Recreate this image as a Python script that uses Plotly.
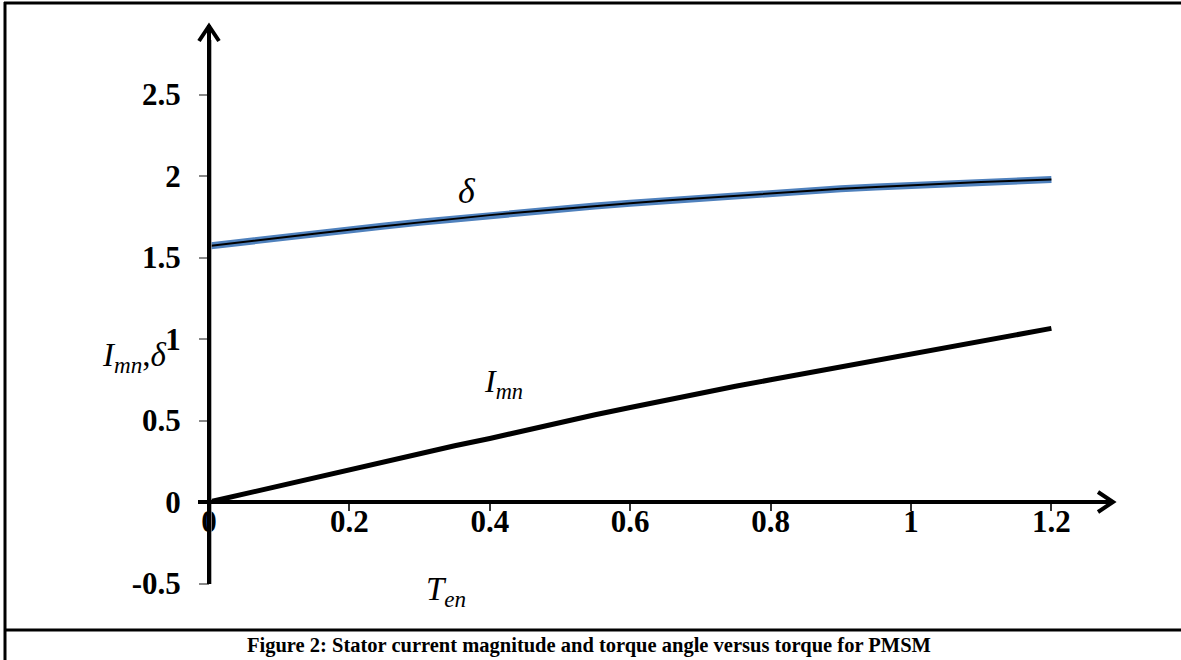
import plotly.graph_objects as go

# ---- data ----
torque = [0, 0.05, 0.1, 0.15, 0.2, 0.25, 0.3, 0.35, 0.4, 0.45, 0.5, 0.55, 0.6,
          0.65, 0.7, 0.75, 0.8, 0.85, 0.9, 0.95, 1.0, 1.05, 1.1, 1.15, 1.2]
current = [0, 0.05, 0.10, 0.15, 0.20, 0.25, 0.295, 0.345, 0.39, 0.44, 0.485, 0.535, 0.58,
           0.625, 0.665, 0.71, 0.75, 0.79, 0.83, 0.87, 0.91, 0.95, 0.99, 1.03, 1.065]
delta = [1.571, 1.597, 1.622, 1.646, 1.670, 1.693, 1.716, 1.738, 1.760, 1.779, 1.798, 1.816, 1.833,
         1.849, 1.864, 1.878, 1.892, 1.907, 1.922, 1.933, 1.944, 1.954, 1.963, 1.971, 1.978]
x_ticks = [0, 0.2, 0.4, 0.6, 0.8, 1.0, 1.2]
x_labels = ["0", "0.2", "0.4", "0.6", "0.8", "1", "1.2"]
y_ticks = [-0.5, 0, 0.5, 1, 1.5, 2, 2.5]
y_labels = ["-0.5", "0", "0.5", "1", "1.5", "2", "2.5"]

W, H = 1181, 660
# pixel mapping of the reference: x=0 at px 209, 702 px/unit; y=0 at px 502, 163 px/unit
X0PX, XS = 209, 702.0
Y0PX, YS = 502, 163.0
xr = [-X0PX / XS, (W - X0PX) / XS]
yr = [-(H - Y0PX) / YS, Y0PX / YS]

def dx(px):
    return (px - X0PX) / XS

def dy(py):
    return (Y0PX - py) / YS

def px(x):
    return x / W

def py(y):
    return 1 - y / H

serif = "Liberation Serif, Times New Roman, serif"

fig = go.Figure()
fig.add_trace(go.Scatter(x=torque, y=delta, mode="lines",
                         line=dict(color="#4f81bd", width=7), hoverinfo="skip"))
fig.add_trace(go.Scatter(x=torque, y=delta, mode="lines",
                         line=dict(color="black", width=2), hoverinfo="skip"))
fig.add_trace(go.Scatter(x=torque, y=current, mode="lines",
                         line=dict(color="black", width=5), hoverinfo="skip"))

shapes = []
# thin grey axis line beside the black arrow
shapes.append(dict(type="line", xref="x", yref="y", x0=dx(211), x1=dx(211), y0=dy(584), y1=dy(40),
                   line=dict(color="#999999", width=1.5)))
# axis lines with open arrowheads
shapes.append(dict(type="line", xref="x", yref="y", x0=0, x1=0, y0=dy(584), y1=dy(25),
                   line=dict(color="black", width=4), layer="above"))
shapes.append(dict(type="path", xref="x", yref="y",
                   path=f"M {dx(199)},{dy(41)} L {dx(209)},{dy(26)} L {dx(219)},{dy(41)}",
                   line=dict(color="black", width=4), layer="above"))
shapes.append(dict(type="line", xref="x", yref="y", x0=dx(198), x1=dx(1113), y0=0, y1=0,
                   line=dict(color="black", width=4), layer="above"))
shapes.append(dict(type="path", xref="x", yref="y",
                   path=f"M {dx(1098)},{dy(492)} L {dx(1113)},{dy(502)} L {dx(1098)},{dy(512)}",
                   line=dict(color="black", width=4), layer="above"))
# frame
shapes.append(dict(type="line", xref="paper", yref="paper", x0=px(5), x1=px(5), y0=py(2), y1=py(H),
                   line=dict(color="black", width=3)))
shapes.append(dict(type="line", xref="paper", yref="paper", x0=px(4), x1=px(1181), y0=py(3), y1=py(3),
                   line=dict(color="black", width=3)))
shapes.append(dict(type="line", xref="paper", yref="paper", x0=px(4), x1=px(1181), y0=py(630), y1=py(630),
                   line=dict(color="black", width=3)))

annotations = [
    dict(xref="paper", yref="paper", x=px(134), y=py(357), xanchor="center", yanchor="middle",
         showarrow=False, text="<i>I</i><sub><i>mn</i></sub>,<i>δ</i>",
         font=dict(family=serif, size=33, color="black")),
    dict(xref="paper", yref="paper", x=px(446), y=py(591), xanchor="center", yanchor="middle",
         showarrow=False, text="<i>T</i><sub><i>en</i></sub>",
         font=dict(family=serif, size=33, color="black")),
    dict(xref="x", yref="y", x=dx(467), y=dy(191), xanchor="center", yanchor="middle",
         showarrow=False, text="<i>δ</i>", font=dict(family=serif, size=36, color="black")),
    dict(xref="x", yref="y", x=dx(503), y=dy(383), xanchor="center", yanchor="middle",
         showarrow=False, text="<i>I</i><sub><i>mn</i></sub>",
         font=dict(family=serif, size=32, color="black")),
    dict(xref="paper", yref="paper", x=px(589), y=py(645), xanchor="center", yanchor="middle",
         showarrow=False,
         text="<b>Figure 2: Stator current magnitude and torque angle versus torque for PMSM</b>",
         font=dict(family=serif, size=20.5, color="black")),
]

fig.update_layout(
    width=W, height=H, margin=dict(l=0, r=0, t=0, b=0),
    paper_bgcolor="white", plot_bgcolor="white", showlegend=False,
    shapes=shapes, annotations=annotations,
    xaxis=dict(range=xr, anchor="free", position=1 - Y0PX / H, tickvals=x_ticks, ticktext=x_labels,
               ticks="outside", ticklen=8, tickwidth=2, tickcolor="#333333", showgrid=False,
               zeroline=False, showline=False, fixedrange=True, ticklabelstandoff=-16,
               tickfont=dict(family=serif, size=31, color="black", weight="bold")),
    yaxis=dict(range=yr, anchor="free", position=X0PX / W, tickvals=y_ticks, ticktext=y_labels,
               ticks="outside", ticklen=10, tickwidth=2, tickcolor="#888888", showgrid=False,
               zeroline=False, showline=False, fixedrange=True, ticklabelstandoff=12,
               tickfont=dict(family=serif, size=31, color="black", weight="bold")),
)

fig.write_html("out.html")
